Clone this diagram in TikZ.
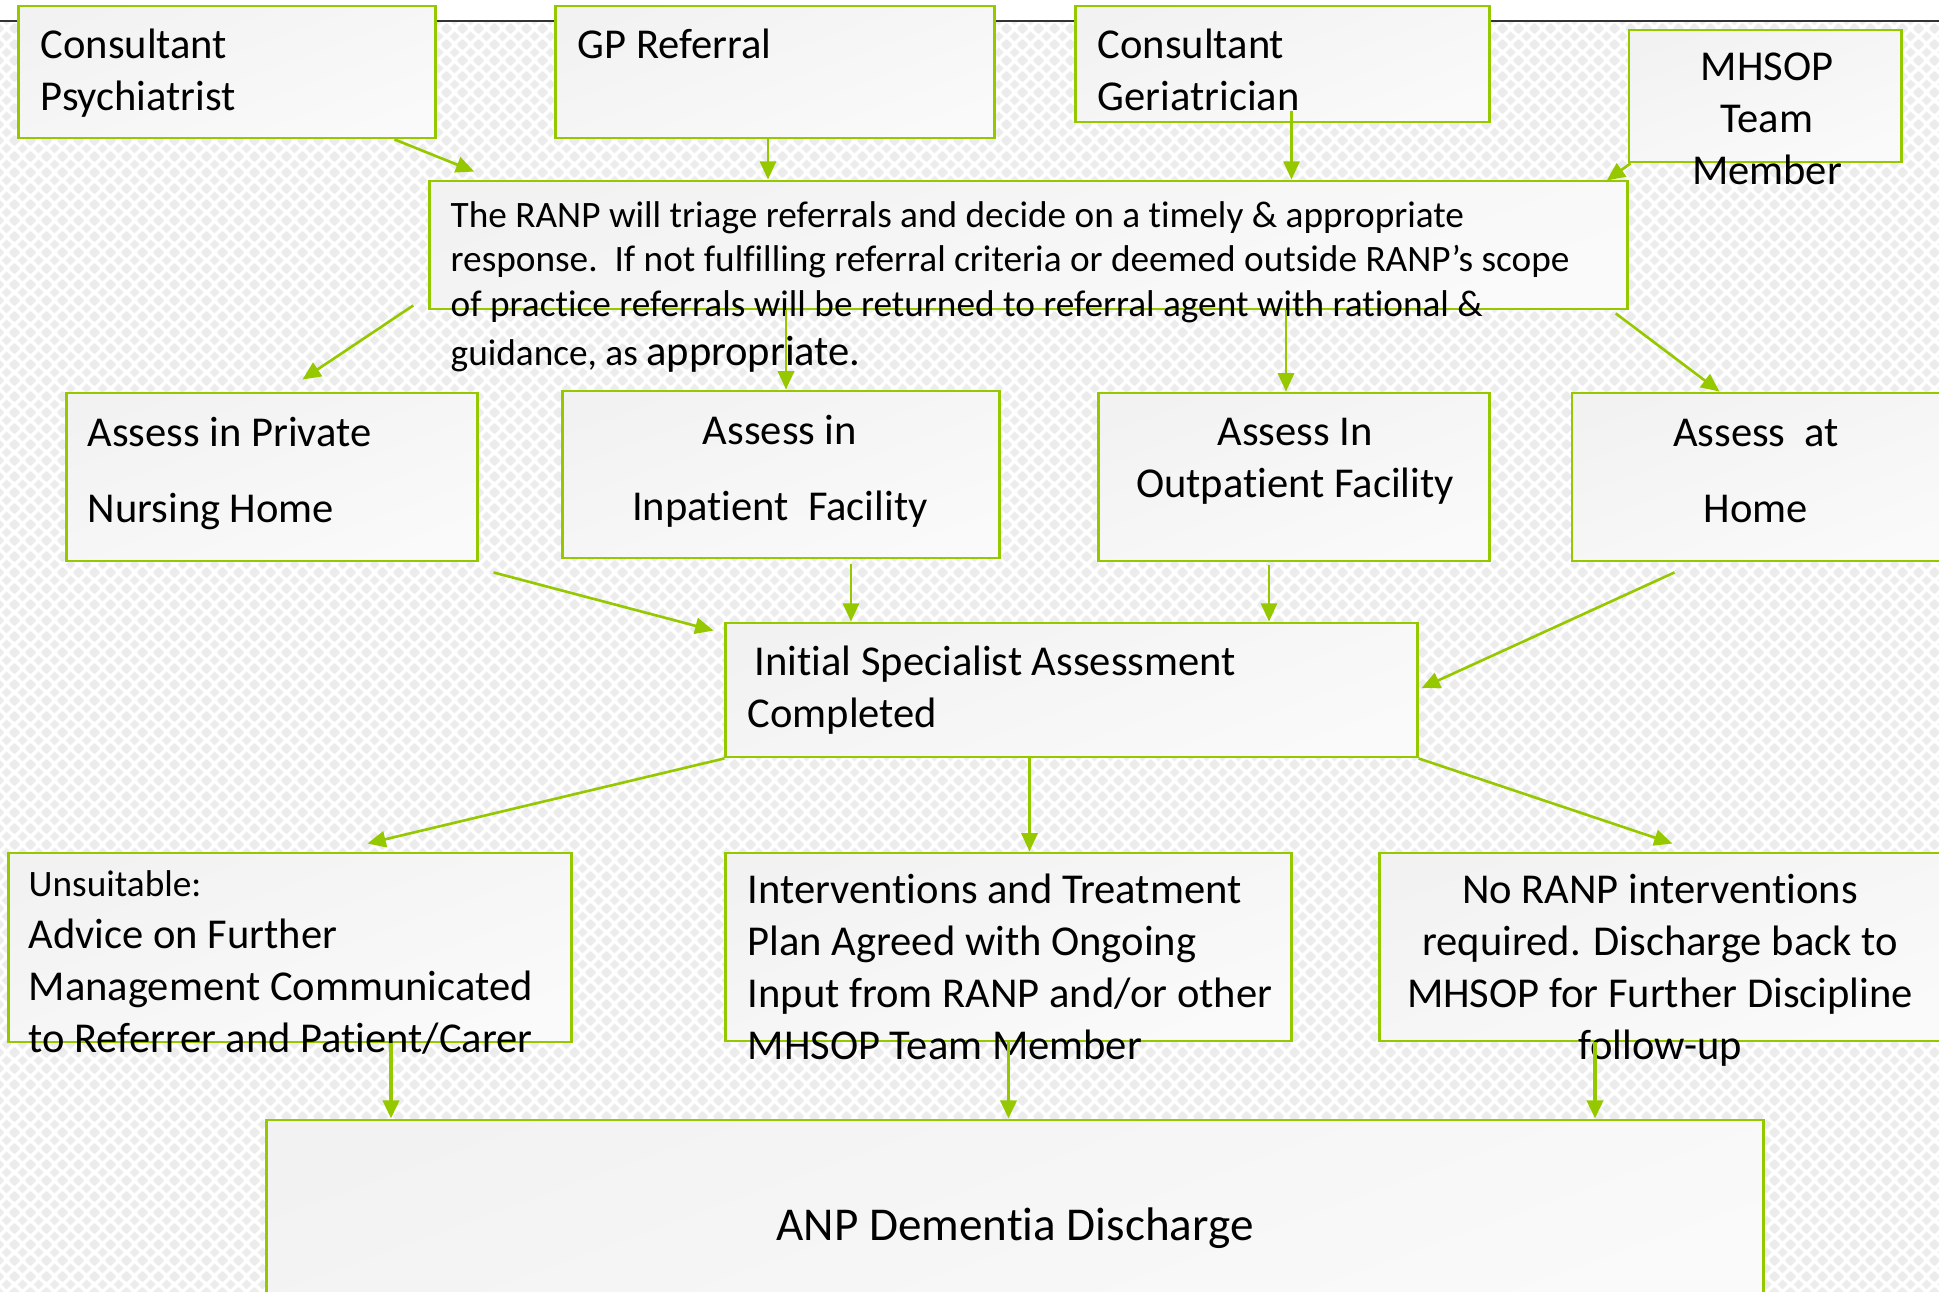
\documentclass[tikz,border=0pt]{standalone}
\usepackage{fontspec}
\setmainfont{Carlito}[Ligatures=NoCommon]
\usetikzlibrary{arrows.meta}
\usetikzlibrary{calc}
\usetikzlibrary{patterns}
\definecolor{rgreen}{RGB}{150,200,0}
\definecolor{bgtile}{RGB}{236,236,236}
\newcommand\tilediamond[2]{%
  \pgfpathmoveto{\pgfpoint{#1-1.5pt}{#2}}%
  \pgfpathlineto{\pgfpoint{#1}{#2+1.5pt}}%
  \pgfpathlineto{\pgfpoint{#1+1.5pt}{#2}}%
  \pgfpathlineto{\pgfpoint{#1}{#2-1.5pt}}%
  \pgfpathclose}
\pgfdeclarepatterninherentlycolored{diamondbg}
  {\pgfpointorigin}{\pgfpoint{4.55pt}{4.55pt}}{\pgfpoint{4.55pt}{4.55pt}}
  {\pgfsetfillcolor{bgtile}
   \tilediamond{0pt}{0pt}\tilediamond{4.55pt}{0pt}
   \tilediamond{0pt}{4.55pt}\tilediamond{4.55pt}{4.55pt}
   \tilediamond{2.275pt}{2.275pt}
   \pgfusepath{fill}}
\tikzset{box/.style = {draw=rgreen, line width=0.8pt, inner sep=0pt,
                       top color=gray!10, middle color=gray!32, bottom color=gray!4,
                       shading angle=20},
         txt/.style = {inner sep=0pt, font=\fontsize{12.1}{14.8}\selectfont},
         flow/.style = {draw=rgreen, line width=0.75pt,
                        -{Triangle[length=5.2pt, width=4.6pt]}},
         flowb/.style = {flow, line width=1.1pt}}

\begin{document}
\begin{tikzpicture}[x=0.01cm, y=-0.01cm]
      \useasboundingbox (0,0) rectangle (1939,1292);
      \clip (0,0) rectangle (1939,1292);
      \fill [white] (0,0) rectangle (1939,1292);
      \fill [pattern=diamondbg] (0,21) rectangle (1939,1292);
      \draw [line width=0.6pt, black!80] (0,21) -- (1939,21);

      \node [box, minimum width=4.16cm, minimum height=1.32cm] (psy) at (227,72) {};
      \node [box, minimum width=4.38cm, minimum height=1.32cm] (gp) at (775,72) {};
      \node [box, minimum width=4.13cm, minimum height=1.16cm] (ger) at (1282.5,64) {};
      \node [box, minimum width=2.72cm, minimum height=1.32cm] (team) at (1765,96) {};
      \node [box, minimum width=11.97cm, minimum height=1.28cm] (ranp) at (1028.5,245) {};
      \node [box, minimum width=4.10cm, minimum height=1.68cm] (priv) at (272,477) {};
      \node [box, minimum width=4.36cm, minimum height=1.67cm] (inp) at (781,474.5) {};
      \node [box, minimum width=3.90cm, minimum height=1.68cm] (outp) at (1294,477) {};
      \node [box, minimum width=3.78cm, minimum height=1.68cm] (home) at (1761,477) {};
      \node [box, minimum width=6.91cm, minimum height=1.34cm] (init) at (1071.5,690) {};
      \node [box, minimum width=5.62cm, minimum height=1.89cm] (uns) at (290,947.5) {};
      \node [box, minimum width=5.65cm, minimum height=1.88cm] (intv) at (1008.5,947) {};
      \node [box, minimum width=5.70cm, minimum height=1.88cm] (norn) at (1665,947) {};
      \node [box, minimum width=14.96cm, minimum height=1.90cm] (disc) at (1015,1215) {};

      \node [txt, anchor=base west, align=left] (psy-t) at (40,111) {Consultant\\Psychiatrist};
      \node [txt, anchor=base west] (gp-t) at (577,59) {GP Referral};
      \node [txt, anchor=base west, align=left] (ger-t) at (1097,111) {Consultant\\Geriatrician};
      \node [txt, anchor=base, align=center] (team-t) at (1767,185) {MHSOP\\Team\\Member};
      \node [txt, anchor=base west, align=left, font=\fontsize{10.6}{12.66}\selectfont] (ranp-t) at (450,366)
            {The RANP will triage referrals and decide on a timely \& appropriate\\
             response.\ \ If not fulfilling referral criteria or deemed outside RANP’s scope\\
             of practice referrals will be returned to referral agent with rational \&\\[1.5pt]
             guidance, as {\fontsize{12.1}{14.8}\selectfont appropriate.}};
      \node [txt, anchor=base west, align=left] (priv-t) at (87,523) {Assess in Private\\[7pt]Nursing Home};
      \node [txt, anchor=base, align=center] (inp-t) at (780,521) {Assess in\\[7pt]Inpatient\ \ Facility};
      \node [txt, anchor=base, align=center] (outp-t) at (1295,498) {Assess In\\Outpatient Facility};
      \node [txt, anchor=base, align=center] (home-t) at (1756,523) {Assess\ \ at\\[7pt]Home};
      \node [txt, anchor=base west, align=left] (init-t) at (747,728) {\hspace{2pt}Initial Specialist Assessment\\Completed};
      \node [txt, anchor=base west, align=left] (uns-t) at (28,1053)
            {{\fontsize{10.6}{12.9}\selectfont Unsuitable:}\\Advice on Further\\Management Communicated\\to Referrer and Patient/Carer};
      \node [txt, anchor=base west, align=left] (intv-t) at (747,1060)
            {Interventions and Treatment\\Plan Agreed with Ongoing\\Input from RANP and/or other\\MHSOP Team Member};
      \node [txt, anchor=base, align=center] (norn-t) at (1660,1060)
            {No RANP interventions\\required. Discharge back to\\MHSOP for Further Discipline\\follow-up};
      \node [txt, anchor=base, font=\fontsize{13.4}{16}\selectfont] (disc-t) at (1015,1240) {ANP Dementia Discharge};

      \draw [flow] ($(psy.south east)+(-42,0)$) -- ($(ranp.north west)+(46,-8)$);
      \draw [flow] ($(gp.south)+(-7,0)$) -- ($(gp.south |- ranp.north)+(-7,0)$);
      \draw [flow] ($(ger.south)+(9,-12)$) -- ($(ger.south |- ranp.north)+(9,0)$);
      \draw [flow] ($(team.south west)+(3,0)$) -- ($(ranp.north east)+(-22,1)$);
      \draw [flow] ($(ranp.south west)+(-15,-5)$) -- ($(priv.north west)+(237,-12)$);
      \draw [flow] ($(inp.north |- ranp.south)+(5,0)$) -- ($(inp.north)+(5,0)$);
      \draw [flow] ($(outp.north |- ranp.south)+(-8,0)$) -- ($(outp.north)+(-8,0)$);
      \draw [flow] ($(ranp.south east)+(-13,3)$) -- ($(home.north west)+(149,0)$);
      \draw [flow] ($(priv.south east)+(15,10)$) -- ($(init.north west)+(-11,9)$);
      \draw [flow] ($(inp.south)+(70,5)$) -- ($(inp.south |- init.north)+(70,0)$);
      \draw [flow] ($(outp.south)+(-25,3)$) -- ($(outp.south |- init.north)+(-25,0)$);
      \draw [flow] ($(home.south west)+(104,10)$) -- ($(init.east)+(3,-2)$);
      \draw [flow] (init.south west) -- ($(uns.north west)+(360,-8)$);
      \draw [flow] ($(init.south)+(-42,0)$) -- ($(init.south |- intv.north)+(-42,0)$);
      \draw [flow] (init.south east) -- ($(norn.north west)+(294,-8)$);
      \draw [flowb] ($(uns.south)+(101,0)$) -- ($(uns.south |- disc.north)+(101,0)$);
      \draw [flowb] (intv.south) -- (intv.south |- disc.north);
      \draw [flowb] ($(norn.south)+(-70,0)$) -- ($(norn.south |- disc.north)+(-70,0)$);
\end{tikzpicture}
\end{document}
